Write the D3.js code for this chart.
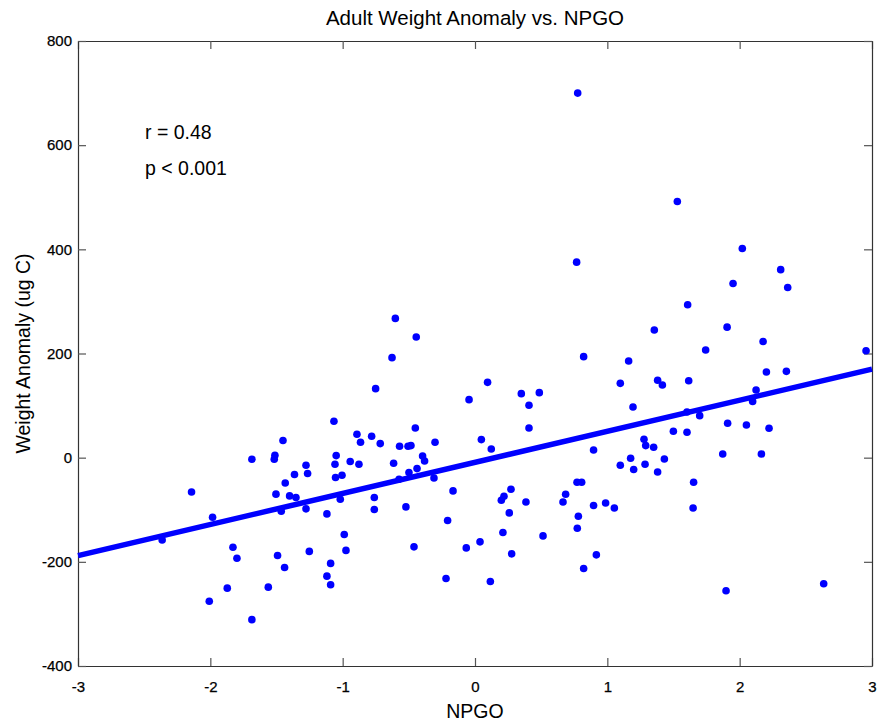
<!DOCTYPE html>
<html>
<head>
<meta charset="utf-8">
<script src="https://cdn.jsdelivr.net/npm/d3@7"></script>
<style>
  html, body { margin: 0; padding: 0; background: #fff; }
  svg { display: block; font-family: "Liberation Sans", Arial, Helvetica, sans-serif; }
</style>
</head>
<body>
<svg id="chart" width="878" height="723"></svg>
<script>
// NPGO index (x) values
const npgo = [
  -1.066, -1.451, -0.892, -0.781, -0.865, -1.686, -1.512, -1.517, -1.277, -1.265,
  -1.364, -1.434, -1.049, -1.058, -0.943, -0.877, -1.054, -1.005, -1.504, -1.401,
  -1.353, -1.018, -0.761, -0.761, -1.277, -1.464, -1.119, -1.983, -0.988, -0.975,
  -1.829, -1.799, -1.492, -1.439, -1.252, -1.091, -1.119, -1.091, -1.872, -1.562,
  -2.008, -1.686, -2.364, -2.142,
  -0.751, 0.768, -0.602, -0.444, -0.627, 1.355, 0.821, 1.161, 0.095, -0.045,
  0.350, 0.486, 0.408, 1.098, 1.380, 1.416, 1.194, -0.451, 0.408,
  -0.716, -0.570, -0.506, -0.484, -0.302, -0.396, -0.381, -0.615, -0.438, -0.499,
  -0.574, -0.310, 0.048, 0.123, 0.896, -0.522, -0.166, -0.207, -0.461, -0.219,
  -0.066, 0.038, 0.116, 0.211, 0.277, 0.199, 0.219, 0.272, 0.259, 0.385,
  0.514, 0.665, 0.685, 0.771, 0.806, 0.781, 0.773, 0.896, 0.987, 1.053,
  0.917, 0.821, 1.098, 1.176, 1.199, 1.277, 1.290, 1.350, 1.285, 1.380, 1.431,
  2.310, 1.950, 2.363, 1.607, 1.905, 2.177, 1.743, 2.955, 1.615, 2.202,
  2.353, 2.124, 2.098, 1.602, 1.698, 1.499, 1.602, 1.909, 2.051, 2.222,
  1.872, 2.164, 1.652, 1.648, 1.897, 2.635, 1.529, 2.020, 0.776
];
// Adult weight anomaly (ug C) values
const weightAnomaly = [
  70, 33, 45, 41, 29.5, -3, 4.6, -3, -14.6, -30.5,
  -32.4, -48.5, 4, -12.7, -7.5, -12.7, -38, -33.8, -70, -73.4,
  -76.6, -79.8, -76.6, -99.6, -98.3, -102.8, -108, -114.3, -147.5, -178,
  -171.9, -193, -187.8, -210.8, -180, -203, -227.5, -244, -250.5, -248.6,
  -275.6, -311, -158, -65.8,
  132.5, 375.4, 267.4, 231.6, 192, 245, 194, 185.5, 144.6, 111.4,
  122.9, 124.8, 100.5, 142.7, 148.5, 139.4, 97.3, 57, 57,
  27, 21.9, 21.9, 23.2, 29.5, 3.3, -6.3, -10.7, -21, -28.7,
  -41.4, -38.9, 34.7, 16.7, 14.8, -94.5, -63.8, -120.7, -171.2, -231.9,
  -173.2, -161.6, -237.7, -143.7, -184.7, -81.7, -74, -60.6, -106, -85,
  -150.2, -85, -70.2, -47.2, -47.2, -112.4, -135.4, -91.9, -86.9, -96.5,
  -186.6, -212.7, -14.6, -1.2, -22.8, 35.3, 23.2, 20, -12.7, -27.4, -2.5,
  361, 334.5, 326.8, 293.6, 250.6, 223, 206.6, 205.4, 147.8, 164.4,
  165.7, 129.9, 108, 87.7, 80.7, 50.6, 48.7, 66, 62.7, 56.4,
  7, 7, -47.2, -96.5, -255.6, -242, 491.8, 401.6, 700
];
// Regression line end points
const fitX = [-3, 3];
const fitY = [-188, 170];
// Tick values
const xTicks = [-3, -2, -1, 0, 1, 2, 3];
const yTicks = [-400, -200, 0, 200, 400, 600, 800];
const statLines = ["r = 0.48", "p < 0.001"];

const W = 878, H = 723;
const margin = { top: 41, right: 6, bottom: 57, left: 78 };
const svg = d3.select("#chart");

const x = d3.scaleLinear().domain([-3, 3]).range([margin.left, W - margin.right]);
const y = d3.scaleLinear().domain([-400, 800]).range([H - margin.bottom, margin.top]);

const axisColor = "#333";

// Axes (ticks inward)
const gB = svg.append("g").attr("transform", `translate(0,${H - margin.bottom})`)
  .call(d3.axisBottom(x).tickValues(xTicks).tickSizeInner(-8).tickSizeOuter(0).tickPadding(15));
const gT = svg.append("g").attr("transform", `translate(0,${margin.top})`)
  .call(d3.axisTop(x).tickValues(xTicks).tickFormat("").tickSizeInner(-8).tickSizeOuter(0));
const gL = svg.append("g").attr("transform", `translate(${margin.left},0)`)
  .call(d3.axisLeft(y).tickValues(yTicks).tickSizeInner(-8).tickSizeOuter(0).tickPadding(6));
const gR = svg.append("g").attr("transform", `translate(${W - margin.right},0)`)
  .call(d3.axisRight(y).tickValues(yTicks).tickFormat("").tickSizeInner(-8).tickSizeOuter(0));

[gB, gT, gL, gR].forEach(g => {
  g.select(".domain").attr("stroke", axisColor).attr("stroke-width", 1.2);
  g.selectAll(".tick line").attr("stroke", "#555").attr("stroke-width", 1.2);
  g.selectAll(".tick text").attr("fill", "#000").style("font-size", "15px")
    .style("font-family", '"Liberation Sans", Arial, sans-serif')
    .attr("stroke", "#000").attr("stroke-width", 0.25);
});
// hyphen-minus like the reference
gB.selectAll(".tick text").text(d => String(d));
gL.selectAll(".tick text").text(d => String(d));

// Points
svg.append("g").selectAll("circle")
  .data(npgo.map((v, i) => [v, weightAnomaly[i]]))
  .join("circle")
  .attr("cx", d => x(d[0]))
  .attr("cy", d => y(d[1]))
  .attr("r", 3.8)
  .attr("fill", "#0000ff");

// Regression line
svg.append("path")
  .datum(fitX.map((v, i) => [v, fitY[i]]))
  .attr("d", d3.line().x(d => x(d[0])).y(d => y(d[1])))
  .attr("stroke", "#0000ff")
  .attr("stroke-width", 5.5)
  .attr("fill", "none");

// Title
svg.append("text")
  .attr("x", (margin.left + W - margin.right) / 2)
  .attr("y", 25)
  .attr("text-anchor", "middle")
  .style("font-size", "20.5px")
  .text("Adult Weight Anomaly vs. NPGO");

// Axis labels
svg.append("text")
  .attr("x", (margin.left + W - margin.right) / 2)
  .attr("y", 718)
  .attr("text-anchor", "middle")
  .style("font-size", "19.5px")
  .text("NPGO");

svg.append("text")
  .attr("transform", `translate(30,${(margin.top + H - margin.bottom) / 2}) rotate(-90)`)
  .attr("text-anchor", "middle")
  .style("font-size", "19.5px")
  .text("Weight Anomaly (ug C)");

// Stats annotation
svg.append("g").selectAll("text")
  .data(statLines)
  .join("text")
  .attr("x", 145)
  .attr("y", (d, i) => 139 + i * 36)
  .style("font-size", "19.5px")
  .text(d => d);
</script>
</body>
</html>
